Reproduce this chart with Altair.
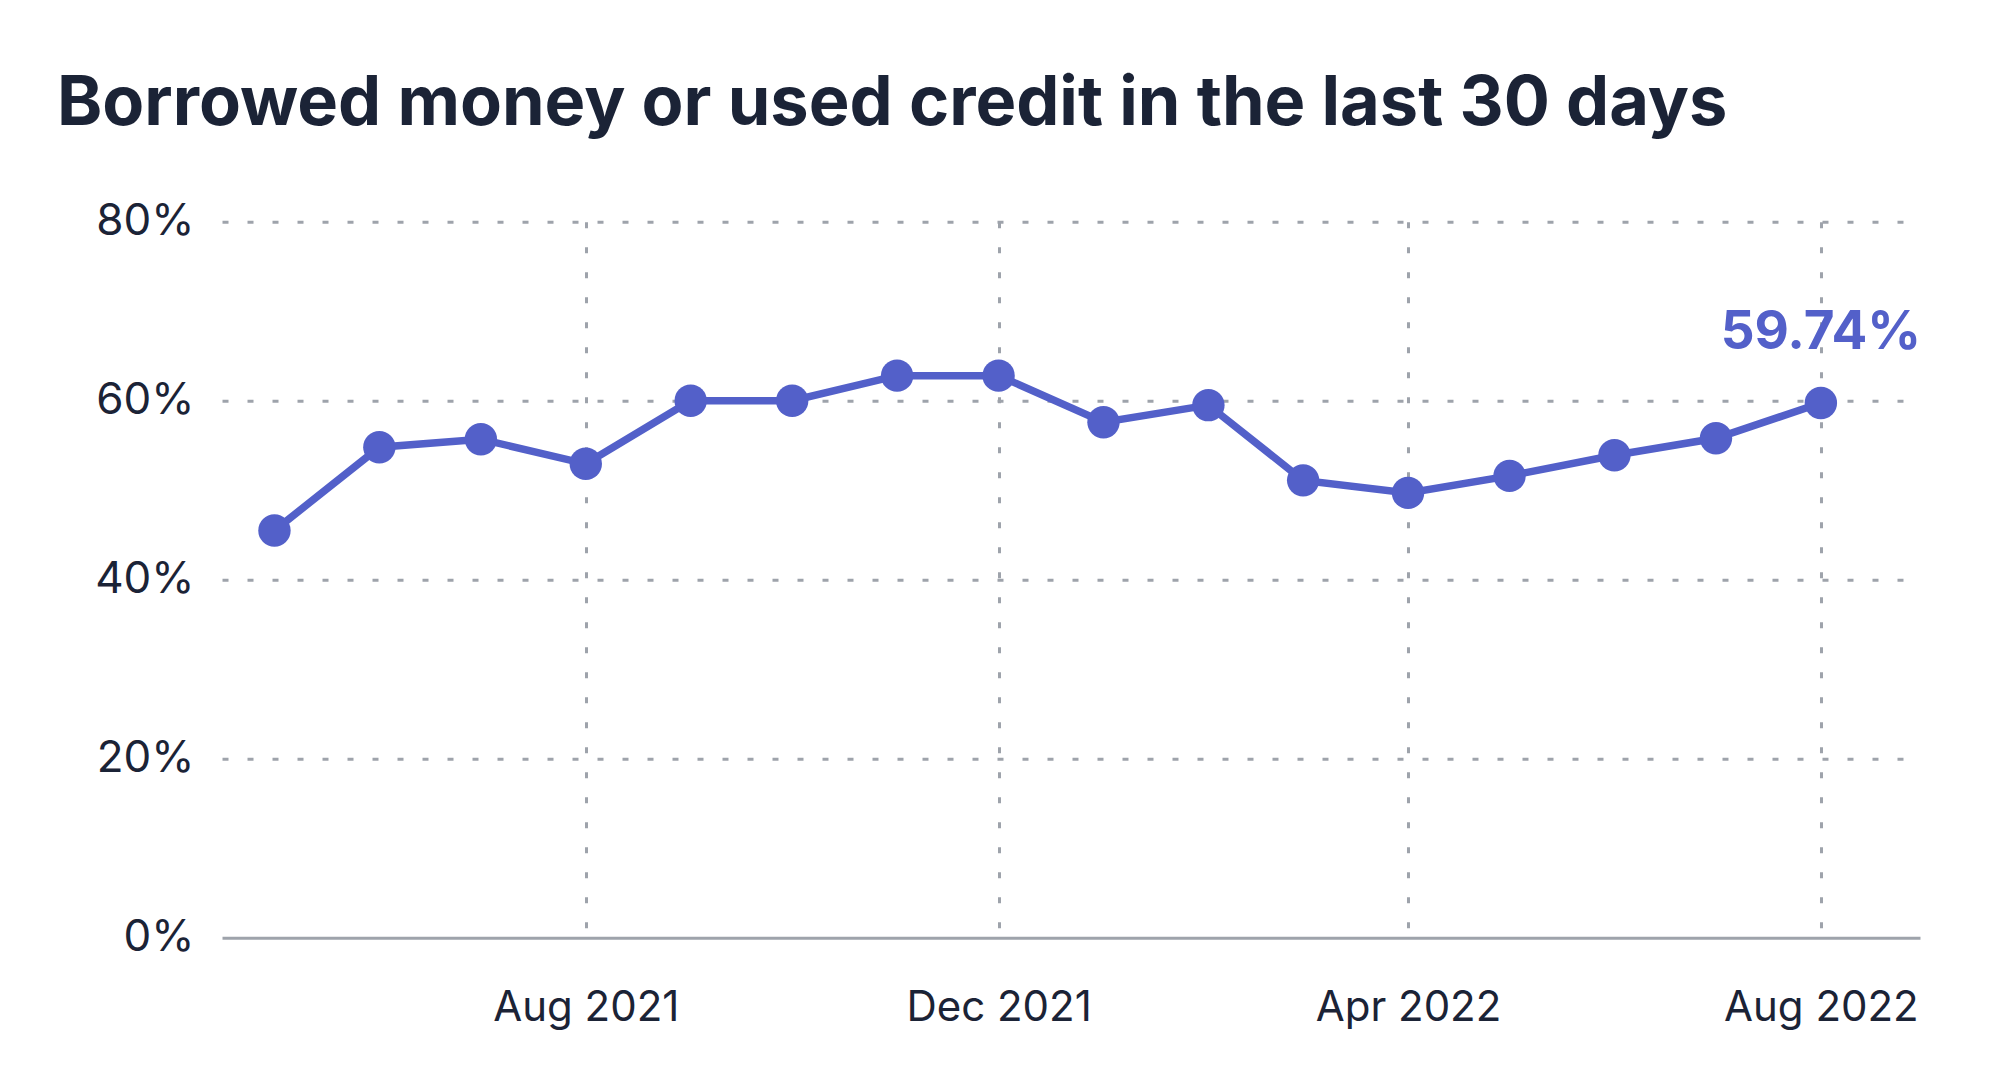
import altair as alt
import pandas as pd

months = ["2021-05-01", "2021-06-01", "2021-07-01", "2021-08-01", "2021-09-01", "2021-10-01",
          "2021-11-01", "2021-12-01", "2022-01-01", "2022-02-01", "2022-03-01", "2022-04-01",
          "2022-05-01", "2022-06-01", "2022-07-01", "2022-08-01"]
values = [45.5, 54.8, 55.7, 52.95, 60.0, 60.0, 62.8, 62.8, 57.6, 59.5, 51.1, 49.7,
          51.6, 53.9, 55.8, 59.74]
y_ticks = [0, 20, 40, 60, 80]
title_text = "Borrowed money or used credit in the last 30 days"

df = pd.DataFrame({"date": months, "value": values})

LINE = "#5360c9"
TEXT = "#1b2336"
GRID = "#9ea3ab"
FONT = "Inter"

x_enc = alt.X(
    "date:T",
    scale=alt.Scale(type="utc",
                    domain=[alt.DateTime(year=2021, month=4, date=15, hours=12, utc=True),
                            alt.DateTime(year=2022, month=8, date=30, hours=7, utc=True)]),
    axis=alt.Axis(
        values=[alt.DateTime(year=2021, month=8, date=1, utc=True),
                alt.DateTime(year=2021, month=12, date=1, utc=True),
                alt.DateTime(year=2022, month=4, date=1, utc=True),
                alt.DateTime(year=2022, month=8, date=1, utc=True)],
        labelExpr="utcFormat(datum.value, '%b %Y')", title=None,
        grid=True, gridDash=[6, 19], gridColor=GRID, gridWidth=3,
        domain=True, domainColor=GRID, domainWidth=3,
        ticks=False, labelPadding=50, labelFontSize=42, labelFont=FONT,
        labelColor=TEXT, labelFlush=False, labelLimit=400,
    ),
)
y_enc = alt.Y(
    "value:Q",
    scale=alt.Scale(domain=[0, 80], nice=False),
    axis=alt.Axis(
        values=y_ticks, labelExpr="datum.value + '%'", title=None,
        grid=True, gridDash=[6, 19], gridColor=GRID, gridWidth=3,
        gridOpacity={"condition": {"test": "datum.value === 0", "value": 0}, "value": 1},
        domain=False, ticks=False, labelPadding=28, labelFontSize=44,
        labelFont=FONT, labelColor=TEXT,
    ),
)

base = alt.Chart(df)
line = base.mark_line(color=LINE, strokeWidth=7.5).encode(x=x_enc, y=y_enc)
points = base.mark_point(filled=True, color=LINE, size=1050, opacity=1).encode(x=x_enc, y=y_enc)
label = base.transform_filter(
    "utcyear(datum.date) == 2022 && utcmonth(datum.date) == 7"
).transform_calculate(
    lab="format(datum.value, '.2f') + '%'"
).mark_text(
    color=LINE, font=FONT, fontSize=53, fontWeight="bold", baseline="alphabetic",
    align="center", dy=-54
).encode(x=x_enc, y=y_enc, text="lab:N")

chart = alt.layer(line, points, label).properties(
    width=1698, height=716,
    padding={"left": 214, "top": 213.7, "right": 60, "bottom": 130},
    autosize=alt.AutoSizeParams(type="none"),
    title=alt.TitleParams(
        title_text, anchor="start", frame="group", font=FONT, fontSize=68.5,
        fontWeight="bold", color=TEXT, baseline="alphabetic", dx=-165, dy=-6,
        offset=0,
    ),
).configure_view(stroke=None)

chart.save("out.html", embed_options={"renderer": "svg", "actions": False})
